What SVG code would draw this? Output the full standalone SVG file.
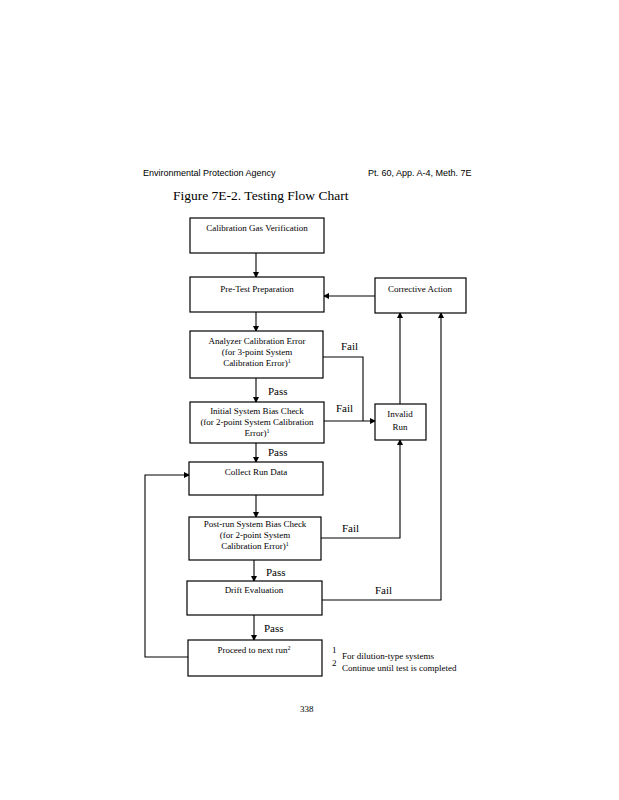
<svg xmlns="http://www.w3.org/2000/svg" width="619" height="800" viewBox="0 0 619 800">
<defs>
<marker id="ah" markerWidth="6" markerHeight="6" refX="5" refY="3" orient="auto" markerUnits="userSpaceOnUse">
<path d="M0,0 L6,3 L0,6 Z" fill="#000"/>
</marker>
<style>
.box{fill:#fff;stroke:#000;stroke-width:1.2}
.ln{fill:none;stroke:#000;stroke-width:1.1}
.t{font-family:"Liberation Serif","Times New Roman",serif;font-size:9px;fill:#000;text-anchor:middle}
.lb{font-family:"Liberation Serif","Times New Roman",serif;font-size:11px;fill:#000}
.hd{font-family:"Liberation Sans",Arial,sans-serif;font-size:9px;fill:#000}
.fn{font-family:"Liberation Serif","Times New Roman",serif;font-size:9px;fill:#000}
</style>
</defs>
<rect width="619" height="800" fill="#fff"/>
<text class="hd" x="143" y="176">Environmental Protection Agency</text>
<text class="hd" x="368" y="176">Pt. 60, App. A-4, Meth. 7E</text>
<text x="173" y="200" style="font-family:'Liberation Serif','Times New Roman',serif;font-size:13.5px;fill:#000">Figure 7E-2.  Testing Flow Chart</text>

<g id="connectors">
<line class="ln" x1="256" y1="253" x2="256" y2="277" marker-end="url(#ah)"/>
<line class="ln" x1="256" y1="312" x2="256" y2="331" marker-end="url(#ah)"/>
<line class="ln" x1="256" y1="378" x2="256" y2="402" marker-end="url(#ah)"/>
<line class="ln" x1="256" y1="443" x2="256" y2="462" marker-end="url(#ah)"/>
<line class="ln" x1="256" y1="495" x2="256" y2="517" marker-end="url(#ah)"/>
<line class="ln" x1="254" y1="560" x2="254" y2="581" marker-end="url(#ah)"/>
<line class="ln" x1="254" y1="615" x2="254" y2="640" marker-end="url(#ah)"/>
<line class="ln" x1="375" y1="296" x2="324" y2="296" marker-end="url(#ah)"/>
<polyline class="ln" points="323,357 363,357 363,421"/>
<line class="ln" x1="324" y1="421" x2="375" y2="421" marker-end="url(#ah)"/>
<line class="ln" x1="400" y1="404" x2="400" y2="313" marker-end="url(#ah)"/>
<polyline class="ln" points="321,538 400,538 400,440" marker-end="url(#ah)"/>
<polyline class="ln" points="322,600 441,600 441,313" marker-end="url(#ah)"/>
<polyline class="ln" points="188,657 145,657 145,475 189,475" marker-end="url(#ah)"/>
</g>

<g id="n1"><rect class="box" x="190" y="218" width="134" height="35"/><text class="t" x="257" y="231">Calibration Gas Verification</text></g>
<g id="n2"><rect class="box" x="190" y="277" width="134" height="35"/><text class="t" x="257" y="292">Pre-Test Preparation</text></g>
<g id="n3"><rect class="box" x="190" y="331" width="133" height="47"/><text class="t" x="257" y="344">Analyzer Calibration Error</text><text class="t" x="257" y="355">(for 3-point System</text><text class="t" x="257" y="366">Calibration Error)<tspan dy="-3" font-size="6">1</tspan></text></g>
<g id="n4"><rect class="box" x="190" y="402" width="134" height="41"/><text class="t" x="257" y="414">Initial System Bias Check</text><text class="t" x="257" y="425">(for 2-point System Calibration</text><text class="t" x="257" y="436">Error)<tspan dy="-3" font-size="6">1</tspan></text></g>
<g id="n5"><rect class="box" x="189" y="462" width="134" height="33"/><text class="t" x="256" y="475">Collect Run Data</text></g>
<g id="n6"><rect class="box" x="189" y="517" width="132" height="43"/><text class="t" x="255" y="527">Post-run System Bias Check</text><text class="t" x="255" y="538">(for 2-point System</text><text class="t" x="255" y="549">Calibration Error)<tspan dy="-3" font-size="6">1</tspan></text></g>
<g id="n7"><rect class="box" x="187" y="581" width="135" height="34"/><text class="t" x="254" y="593">Drift Evaluation</text></g>
<g id="n8"><rect class="box" x="188" y="640" width="134" height="36"/><text class="t" x="254" y="653">Proceed to next run<tspan dy="-3" font-size="6">2</tspan></text></g>
<g id="n9"><rect class="box" x="375" y="278" width="91" height="35"/><text class="t" x="420" y="292">Corrective Action</text></g>
<g id="n10"><rect class="box" x="375" y="404" width="51" height="36"/><text class="t" x="400" y="417">Invalid</text><text class="t" x="400" y="430">Run</text></g>

<g id="labels">
<text class="lb" x="341" y="350">Fail</text>
<text class="lb" x="268" y="395">Pass</text>
<text class="lb" x="336" y="412">Fail</text>
<text class="lb" x="268" y="456">Pass</text>
<text class="lb" x="342" y="532">Fail</text>
<text class="lb" x="266" y="576">Pass</text>
<text class="lb" x="375" y="594">Fail</text>
<text class="lb" x="264" y="632">Pass</text>
</g>
<g id="footnotes">
<text class="fn" x="332" y="653" font-size="5.5">1</text>
<text class="fn" x="342" y="659">For dilution-type systems</text>
<text class="fn" x="332" y="666" font-size="5.5">2</text>
<text class="fn" x="342" y="671">Continue until test is completed</text>
</g>
<text class="fn" x="300" y="712">338</text>
</svg>
